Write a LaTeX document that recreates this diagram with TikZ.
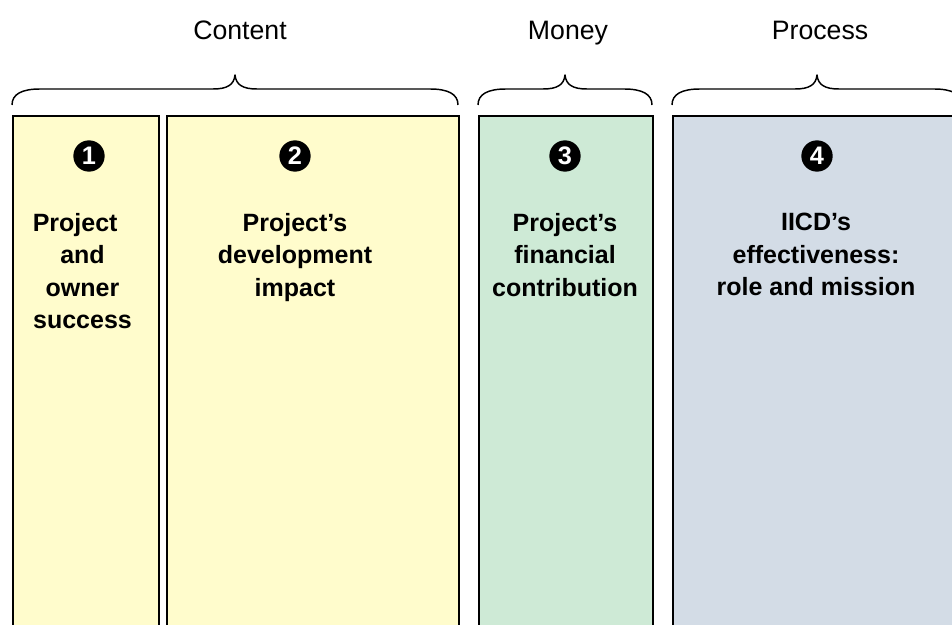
\documentclass[tikz,border=0pt]{standalone}
\usepackage{fontspec}
\setmainfont{Liberation Sans}
\definecolor{paleyellow}{RGB}{255,252,204}
\definecolor{palegreen}{RGB}{206,234,214}
\definecolor{paleblue}{RGB}{211,220,230}
% curly bracket over a group of panels: left end, tip, right end
\newcommand{\groupbrace}[3]{%
  \draw[bracket] (#1,105) .. controls (#1,94) and ({#1+10},89) .. ({#1+28},89)
    -- ({#2-22},89) .. controls ({#2-8},89) and ({#2-1},85) .. (#2,75)
    .. controls ({#2+1},85) and ({#2+8},89) .. ({#2+22},89)
    -- ({#3-28},89) .. controls ({#3-10},89) and (#3,94) .. (#3,105);}
\begin{document}
\begin{tikzpicture}[x=0.75pt,y=-0.75pt,
  panel/.style={draw=black, line width=1.3pt, rectangle, anchor=north west, inner sep=0pt},
  bracket/.style={draw=black, line width=1.1pt, line join=round},
  grouplabel/.style={anchor=base, inner sep=0pt, font=\fontsize{20pt}{24pt}\selectfont},
  heading/.style={anchor=north, inner sep=0pt, align=center,
    font=\fontsize{18.75pt}{24.3pt}\selectfont\bfseries},
  numdot/.style={circle, fill=black, text=white, inner sep=0pt, minimum size=23.5pt,
    font=\fontsize{19pt}{19pt}\selectfont\bfseries}]
\useasboundingbox (0,0) rectangle (952,624);
\clip (0,0) rectangle (952,624);

% panels
\node[panel, fill=paleyellow, minimum width=109.5pt, minimum height=393.75pt] (p1) at (12,115) {};
\node[panel, fill=paleyellow, minimum width=219pt, minimum height=393.75pt] (p2) at (166,115) {};
\node[panel, fill=palegreen, minimum width=130.5pt, minimum height=393.75pt] (p3) at (478,115) {};
\node[panel, fill=paleblue, minimum width=219.75pt, minimum height=393.75pt] (p4) at (672,115) {};

% group brackets
\groupbrace{12}{235}{458}
\groupbrace{478}{565}{652}
\groupbrace{672}{817}{962}

% group labels
\node[grouplabel] (lcontent) at (240,40) {Content};
\node[grouplabel] (lmoney) at (568,40) {Money};
\node[grouplabel] (lprocess) at (820,40) {Process};

% numbered markers
\node[numdot] (n1) at (89,156) {1};
\node[numdot] (n2) at (295,156) {2};
\node[numdot] (n3) at (565,156) {3};
\node[numdot] (n4) at (817,156) {4};

% panel headings
\node[heading] (h1) at (82.5,213) {Project\hspace*{11pt}\\and\hspace*{11pt}\\owner\hspace*{7pt}\\success};
\node[heading] (h2) at (295,213) {Project’s\\development\\impact};
\node[heading] (h3) at (565,213) {Project’s\\financial\\contribution};
\node[heading] (h4) at (816,213) {IICD’s\\effectiveness:\\role and mission};
\end{tikzpicture}
\end{document}
